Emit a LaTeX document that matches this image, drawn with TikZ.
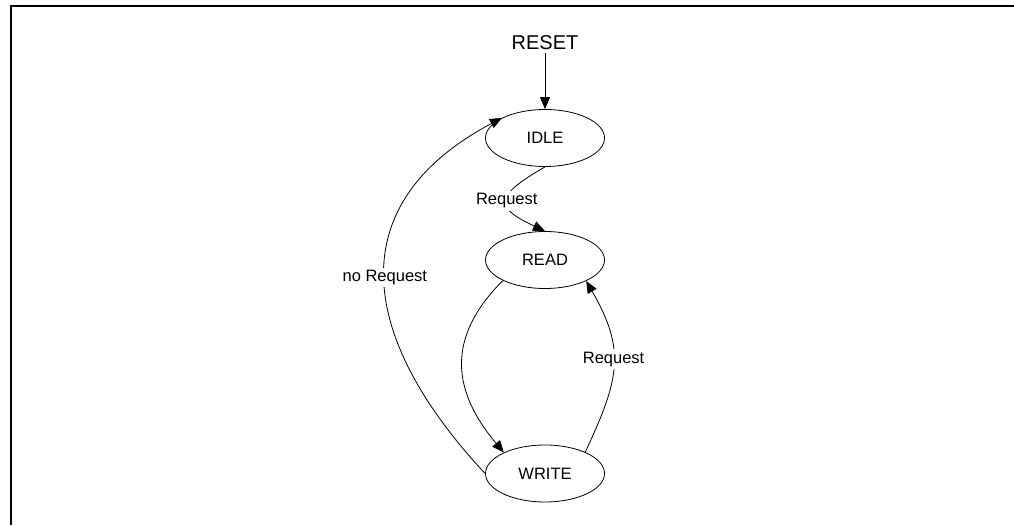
\documentclass[tikz,border=0pt]{standalone}
\usepackage{fontspec}
\setmainfont{Liberation Sans}
\usetikzlibrary{arrows.meta,shapes.geometric}

\begin{document}
\begin{tikzpicture}[>={Triangle[length=12pt,width=10pt]},x=1pt,y=1pt,line width=0.8pt,
    fsm/.style={ellipse, draw, minimum width=119pt, minimum height=57pt, inner sep=0pt, font=\fontsize{16.5}{19}\selectfont},
    lbl/.style={fill=white, inner sep=2.5pt, font=\fontsize{16.5}{19}\selectfont}]

    % frame
    \useasboundingbox (0,0) rectangle (1014,525);
    \draw[line width=2pt] (10.5,0) -- (10.5,519.3) -- (1014,519.3);

    % states
    \draw (545,482.5) node[font=\fontsize{20}{24}\selectfont] (A) {RESET};
    \draw (545,387) node[fsm] (B) {IDLE};
    \draw (545,265) node[fsm] (C) {READ};
    \draw (545,51.5) node[fsm] (D) {WRITE};

    % transitions
    \draw[->] (A) -- (B);
    \draw[->] (B.south) to[out=210,in=155,looseness=2.3] node[lbl] {Request} (C.north);
    \draw[->] (C.206) to[out=225,in=130,looseness=1.2] (D.153);
    \draw[->] (D.28) to[out=65,in=-60,looseness=1.2] node[lbl,pos=0.54] {Request} (C.-27);
    \draw[->] (D.west) to[out=133,in=208,looseness=1.33] node[lbl] {no Request} (B.155);

\end{tikzpicture}
\end{document}
